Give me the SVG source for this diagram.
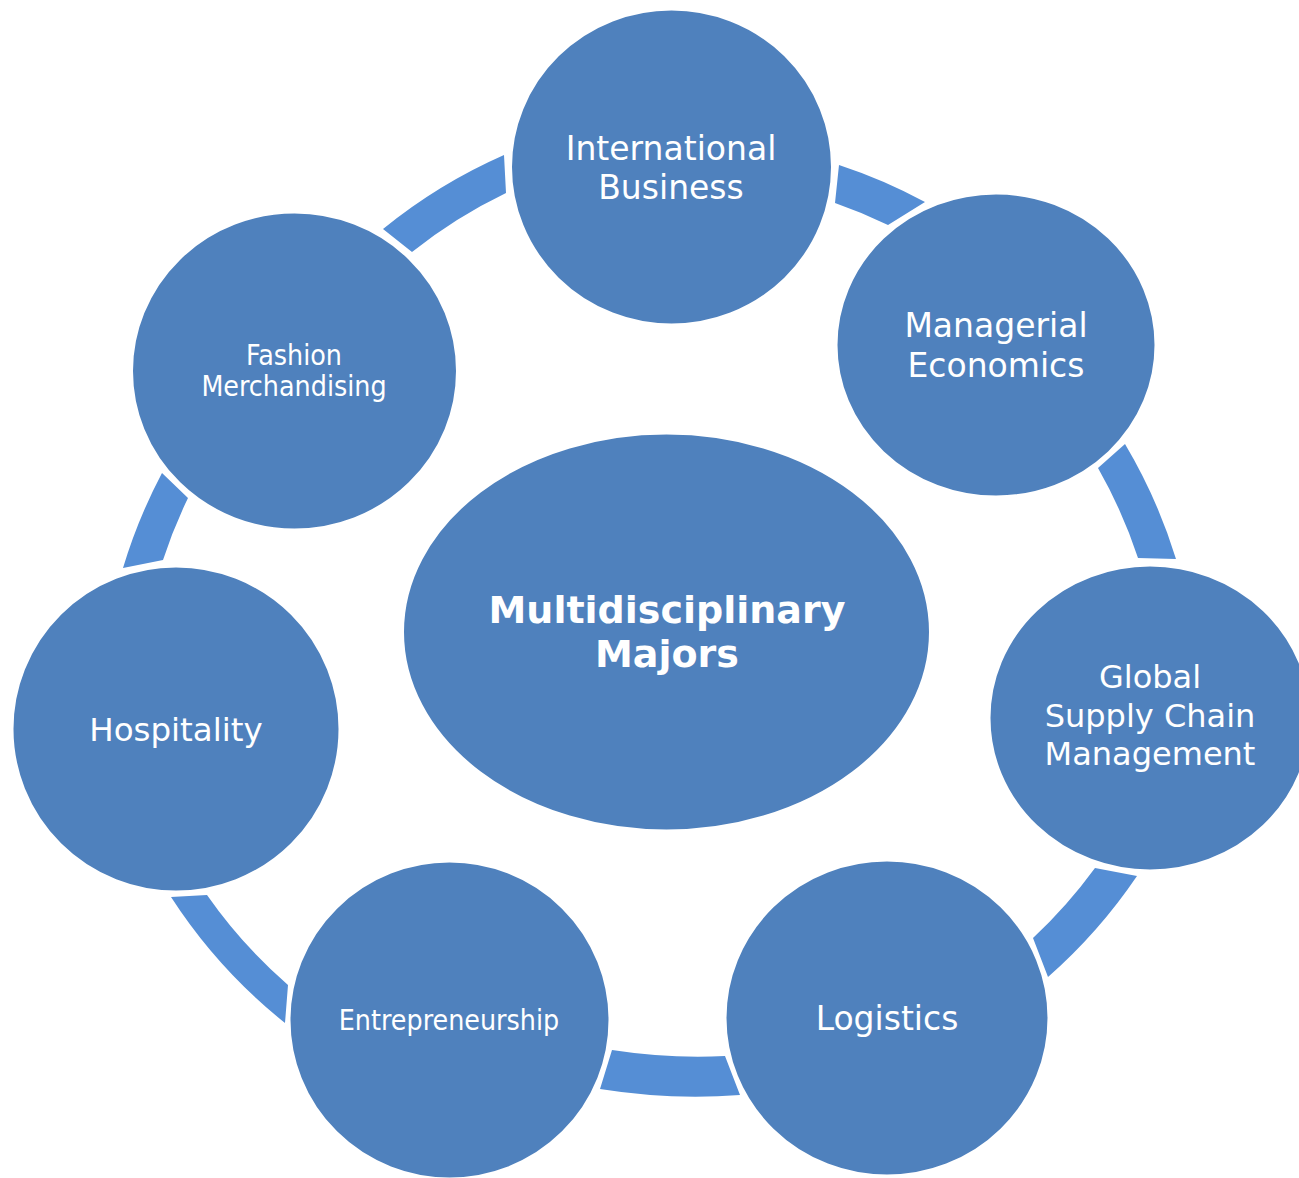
<svg xmlns="http://www.w3.org/2000/svg" width="1299" height="1178" viewBox="0 0 1299 1178">
<style>
.arc{fill:#558ED5;stroke:none}
.node{fill:#4F81BD;stroke:#FFFFFF;stroke-width:3}
.t{fill:#FFFFFF;font-family:"DejaVu Sans","Liberation Sans",sans-serif;text-anchor:middle}
.c{font-stretch:condensed}
.b{font-weight:bold}
</style>
<rect width="1299" height="1178" fill="#FFFFFF"/>
<g id="connectors">
<path class="arc" d="M383,229 A530,530 0 0 1 504,155 L506,193 A495,495 0 0 0 412,252 Z"/>
<path class="arc" d="M839,165 A530,530 0 0 1 925,202 L888,225 A495,495 0 0 0 835,203 Z"/>
<path class="arc" d="M1125,444 A530,530 0 0 1 1176,559 L1138,558 A495,495 0 0 0 1098,468 Z"/>
<path class="arc" d="M1137,876 A530,530 0 0 1 1048,977 L1033,938 A495,495 0 0 0 1095,868 Z"/>
<path class="arc" d="M740,1095 A600,600 0 0 1 600,1089 L612,1050 A560,560 0 0 0 725,1056 Z"/>
<path class="arc" d="M285,1023 A530,530 0 0 1 171,897 L207,895 A495,495 0 0 0 288,985 Z"/>
<path class="arc" d="M123,568 A530,530 0 0 1 162,473 L188,498 A495,495 0 0 0 163,560 Z"/>
</g>
<g id="center">
<ellipse class="node" cx="666.5" cy="632" rx="264" ry="199"/>
<text class="t b" x="667" y="623" font-size="38">Multidisciplinary</text>
<text class="t b" x="667" y="667" font-size="38">Majors</text>
</g>
<g id="international-business">
<ellipse class="node" cx="671.5" cy="167" rx="161" ry="158"/>
<text class="t" x="671" y="160" font-size="33">International</text>
<text class="t" x="671" y="199" font-size="33">Business</text>
</g>
<g id="managerial-economics">
<ellipse class="node" cx="996" cy="345" rx="160" ry="152"/>
<text class="t" x="996" y="337" font-size="33">Managerial</text>
<text class="t" x="996" y="377" font-size="33">Economics</text>
</g>
<g id="global-supply-chain">
<ellipse class="node" cx="1150" cy="718" rx="161" ry="153"/>
<text class="t" x="1150" y="688" font-size="32">Global</text>
<text class="t" x="1150" y="727" font-size="32">Supply Chain</text>
<text class="t" x="1150" y="765" font-size="32">Management</text>
</g>
<g id="logistics">
<ellipse class="node" cx="887" cy="1018" rx="162" ry="158"/>
<text class="t" x="887" y="1030" font-size="33">Logistics</text>
</g>
<g id="entrepreneurship">
<ellipse class="node" cx="449.5" cy="1020" rx="160.5" ry="159"/>
<text class="t c" x="449" y="1030" font-size="28.3">Entrepreneurship</text>
</g>
<g id="hospitality">
<ellipse class="node" cx="176" cy="729" rx="164" ry="163"/>
<text class="t" x="176" y="741" font-size="32.5">Hospitality</text>
</g>
<g id="fashion-merchandising">
<ellipse class="node" cx="294.5" cy="371" rx="163" ry="159"/>
<text class="t c" x="294" y="365" font-size="28.3">Fashion</text>
<text class="t c" x="294" y="396" font-size="28.3">Merchandising</text>
</g>
</svg>
